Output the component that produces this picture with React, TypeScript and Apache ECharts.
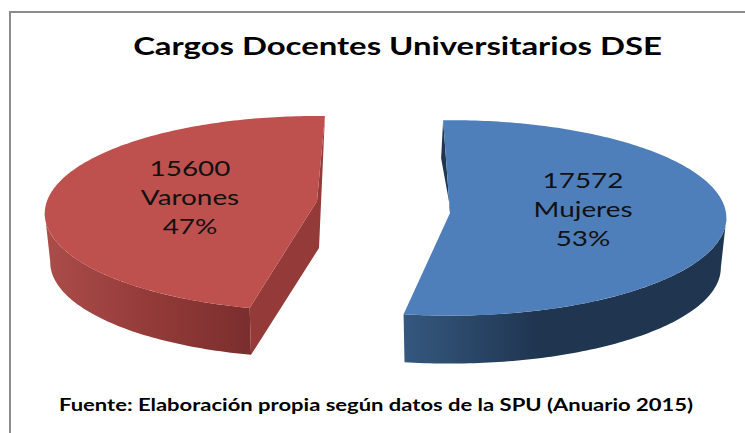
import React, { useEffect, useRef } from "react";
import * as echarts from "echarts";

const titleText = "Cargos Docentes Universitarios DSE";
const sourceText = "Fuente: Elaboración propia según datos de la SPU (Anuario 2015)";
const categories = ["Varones", "Mujeres"];
const values = [15600, 17572];
const percents = ["47%", "53%"];

const FONT = "Lato";
const total = values.reduce((a, b) => a + b, 0);

const sliceLook = [
  {
    cx: 317, cy: 201, B: 270, A: 95.9, k: 0.128, start: 1.9, dir: -1, sideFrom: -97, depth: 49,
    top: "#BE504D", wall: "#943B39",
    side: [{ offset: 0, color: "#AB4D4A" }, { offset: 0.5, color: "#943B39" }, { offset: 1, color: "#7A2E2D" }],
    labelX: 190, labelY: 197,
  },
  {
    cx: 450, cy: 213, B: 276, A: 97.5, k: 0.05, start: -1.5, dir: 1, sideFrom: 93, depth: 50,
    top: "#4F7FBB", wall: "#1F3550",
    side: [{ offset: 0, color: "#35587F" }, { offset: 0.42, color: "#1F3550" }, { offset: 1, color: "#1F3550" }],
    labelX: 583, labelY: 209,
  },
];

function renderSlice(params: any, api: any) {
  const i = params.dataIndex;
  const look = sliceLook[i];
  const sweep = (api.value(0) / total) * 360;
  const end = look.start + look.dir * sweep;
  const proj = (deg: number) => {
    const t = (deg * Math.PI) / 180;
    const u = Math.sin(t);
    const v = -Math.cos(t);
    const s = 1 / (1 - look.k * v);
    return [look.cx + look.B * u * s, look.cy + look.A * v * s];
  };
  const lower = (p: number[]) => [
    look.cx + (p[0] - look.cx) * 0.98,
    look.cy + (p[1] - look.cy) * 0.98 + look.depth,
  ];
  const arc = (a: number, b: number) => {
    const n = Math.max(2, Math.round(Math.abs(b - a)));
    const pts: number[][] = [];
    for (let j = 0; j <= n; j++) pts.push(proj(a + ((b - a) * j) / n));
    return pts;
  };
  const apex = [look.cx, look.cy];
  const topPt = proj(look.start);
  const tip = proj(end);
  const frontArc = arc(look.sideFrom, end);
  const sidePts = [...frontArc, ...frontArc.map(lower).reverse()];
  const xs = sidePts.map((p) => p[0]);
  const minX = Math.min(...xs);
  const maxX = Math.max(...xs);
  const wallPts =
    look.dir < 0
      ? [topPt, apex, tip, lower(tip), [apex[0] + 2, apex[1] + 47]]
      : [topPt, [topPt[0] - 2, topPt[1] + 38], [apex[0], apex[1] - 6], apex];
  return {
    type: "group",
    children: [
      {
        type: "polygon",
        shape: { points: sidePts },
        style: {
          fill: {
            type: "linear",
            global: true,
            x: minX,
            y: 0,
            x2: maxX,
            y2: 0,
            colorStops: look.side,
          },
        },
      },
      { type: "polygon", shape: { points: wallPts }, style: { fill: look.wall } },
      {
        type: "polygon",
        shape: { points: [apex, ...arc(look.start, end)] },
        style: { fill: look.top },
      },
      {
        type: "text",
        x: look.labelX,
        y: look.labelY,
        scaleX: 1.36,
        style: {
          text: `${api.value(0)}\n${categories[i]}\n${percents[i]}`,
          fontFamily: FONT,
          fontSize: 20.5,
          lineHeight: 29,
          fill: "#111111",
          align: "center",
          verticalAlign: "middle",
        },
      },
    ],
  };
}

export default function App() {
  const ref = useRef<HTMLDivElement>(null);
  useEffect(() => {
    const chart = echarts.init(ref.current!, undefined, { renderer: "svg" });
    chart.setOption({
      animation: false,
      backgroundColor: "#ffffff",
      graphic: [
        {
          type: "polyline",
          shape: { points: [[10, 433], [10, 12], [745, 12]] },
          style: { stroke: "#8C8C8C", lineWidth: 2, fill: "none" },
        },
        {
          type: "text",
          x: 397.5,
          y: 45,
          scaleX: 1.315,
          style: {
            text: titleText,
            fontFamily: FONT,
            fontWeight: "bold",
            fontSize: 25,
            fill: "#000000",
            align: "center",
            verticalAlign: "middle",
          },
        },
        {
          type: "text",
          x: 376,
          y: 405,
          scaleX: 1.334,
          style: {
            text: sourceText,
            fontFamily: FONT,
            fontWeight: "bold",
            fontSize: 16.5,
            fill: "#000000",
            align: "center",
            verticalAlign: "middle",
          },
        },
      ],
      series: [
        {
          type: "custom",
          coordinateSystem: "none",
          renderItem: renderSlice,
          data: values.map((v) => [v]),
        },
      ],
    });
    return () => chart.dispose();
  }, []);
  return <div ref={ref} style={{ position: "absolute", left: 0, top: 0, width: 745, height: 433 }} />;
}
